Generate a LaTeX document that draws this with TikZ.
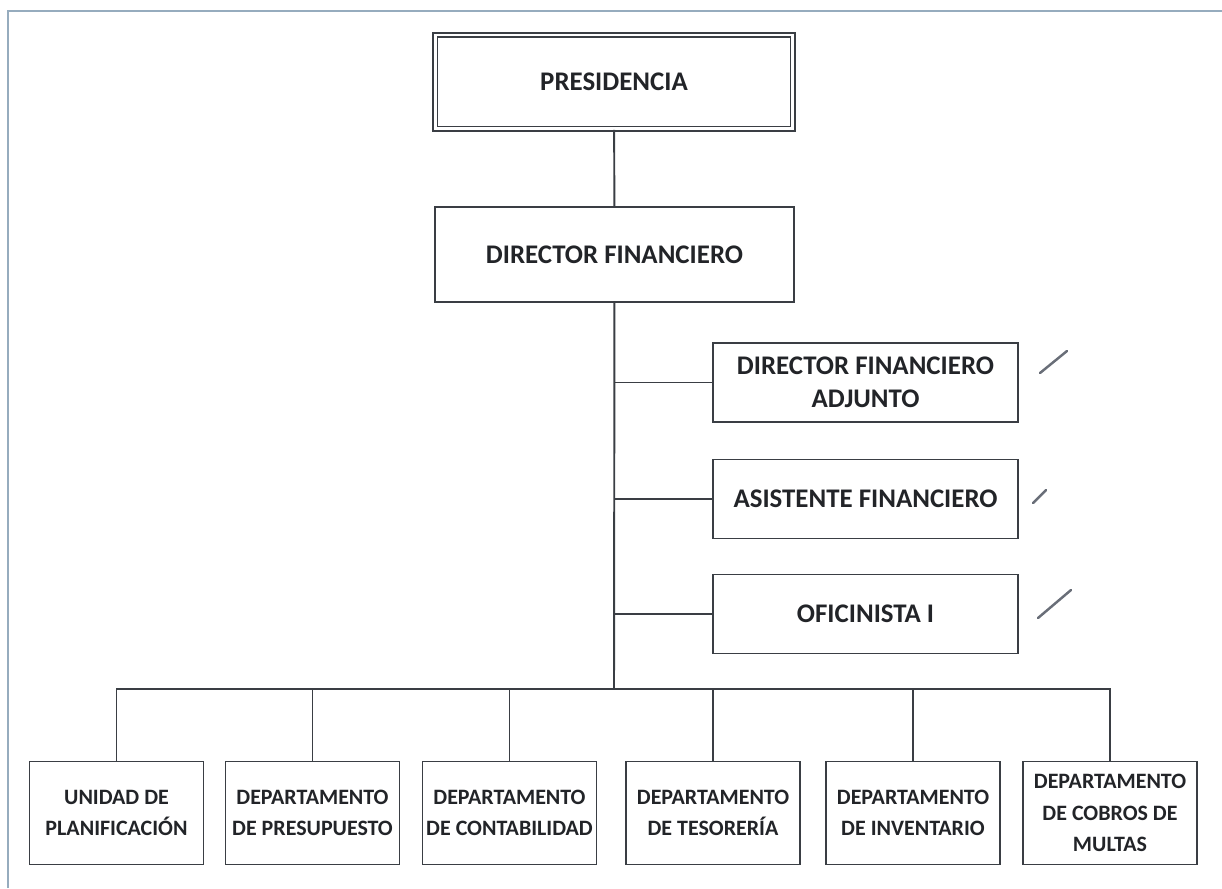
\documentclass[tikz,border=0pt]{standalone}
\usepackage{fontspec}
\setmainfont{Carlito}
\usetikzlibrary{positioning}
\definecolor{ink}{RGB}{34,36,40}
\definecolor{edge}{RGB}{58,62,68}
\definecolor{frame}{RGB}{150,172,190}
\definecolor{pencil}{RGB}{105,110,120}
\tikzset{
  unit/.style={draw=edge, line width=1.1pt, fill=white, align=center, text=ink,
              font=\bfseries\fontsize{15.3}{19}\selectfont, inner sep=2pt},
  head/.style={unit, double=white, double distance=1.7pt, line width=0.9pt,
              minimum width=7.16cm, minimum height=1.88cm},
  chief/.style={unit, minimum width=7.18cm, minimum height=1.9cm},
  side/.style={unit, minimum width=6.1cm, minimum height=1.58cm},
  dept/.style={unit, minimum width=3.48cm, minimum height=2.06cm,
              font=\bfseries\fontsize{12.5}{18}\selectfont},
  link/.style={draw=edge, line width=1.1pt},
  checkmark/.style={draw=pencil, line width=1.4pt, line cap=round},
}

\begin{document}
\begin{tikzpicture}[x=0.02cm, y=-0.02cm]
  \useasboundingbox (0,0) rectangle (1222,888);
  \draw[frame, line width=1.1pt] (8,888) -- (8,11) -- (1222,11);

  \node[head]  (presid) at (614,82)    {PRESIDENCIA};
  \node[chief] (dir)    at (614.5,254.5) {DIRECTOR FINANCIERO};

  \node[side] (adj)  at (865.5,382.5) {DIRECTOR FINANCIERO\\ADJUNTO};
  \node[side] (asis) at (865.5,499)   {ASISTENTE FINANCIERO};
  \node[side] (ofi)  at (865.5,614)   {OFICINISTA I};

  \node[dept] (plan)   at (116.5,813) {UNIDAD DE\\PLANIFICACIÓN};
  \node[dept] (presup) at (312.5,813) {DEPARTAMENTO\\DE PRESUPUESTO};
  \node[dept] (cont)   at (509.5,813) {DEPARTAMENTO\\DE CONTABILIDAD};
  \node[dept] (teso)   at (713,813)   {DEPARTAMENTO\\DE TESORERÍA};
  \node[dept] (inv)    at (913,813)   {DEPARTAMENTO\\DE INVENTARIO};
  \node[dept] (multas) at (1110,813)  {DEPARTAMENTO\\DE COBROS DE\\MULTAS};

  \coordinate (bus) at (614,689);
  \draw[link] (presid) -- (dir);
  \draw[link] (dir) -- (bus);
  \foreach \s in {adj,asis,ofi}
    \draw[link] (\s.west) -- (\s.west -| bus);
  \foreach \d in {plan,presup,cont,teso,inv,multas}
    \draw[link] (bus) -| (\d.north);

  % pencil ticks
  \draw[checkmark] (1040,373) -- (1067,351);
  \draw[checkmark] (1033,503) -- (1046,490);
  \draw[checkmark] (1038,618) -- (1071,590);
\end{tikzpicture}
\end{document}
